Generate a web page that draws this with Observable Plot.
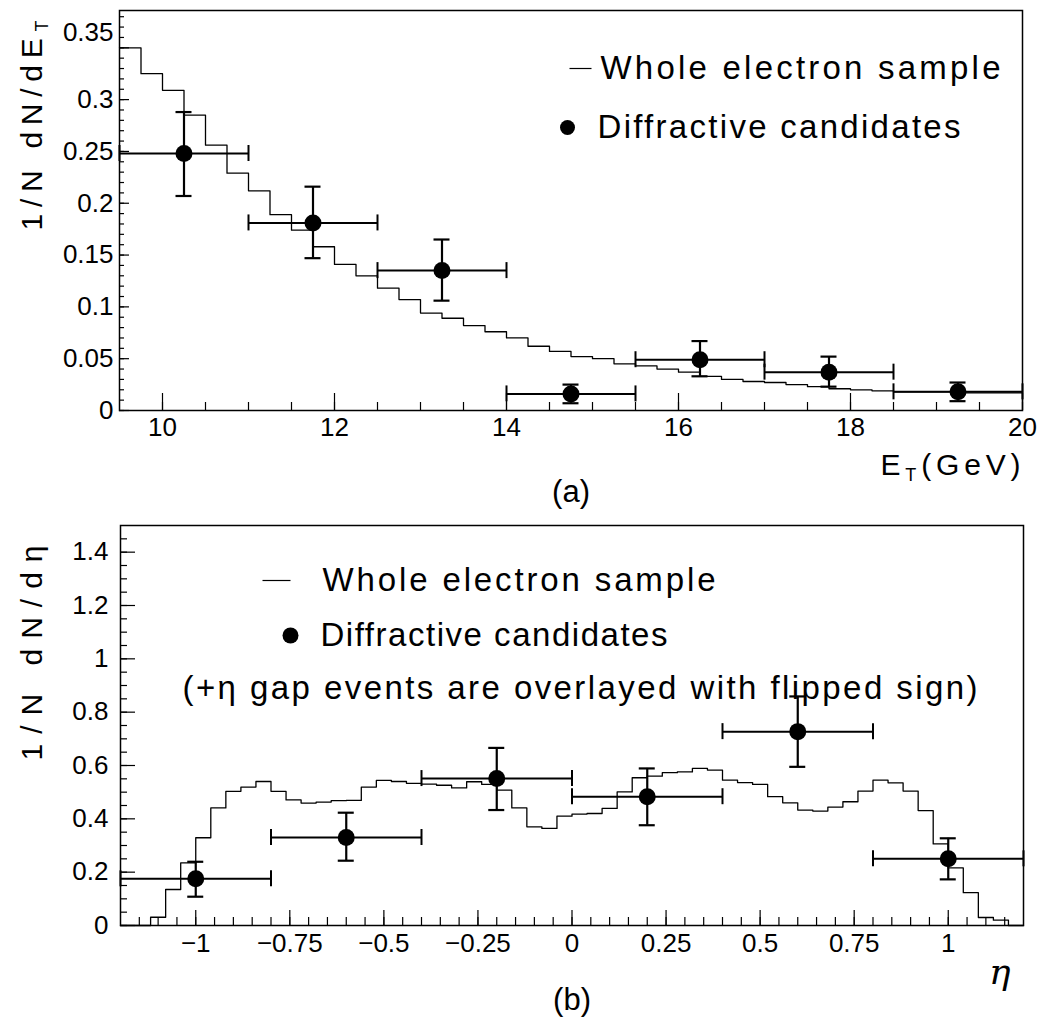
<!DOCTYPE html>
<html><head><meta charset="utf-8">
<script src="https://cdn.jsdelivr.net/npm/d3@7"></script>
<script src="https://cdn.jsdelivr.net/npm/@observablehq/plot@0.6"></script>
<style>
body{margin:0;background:#fff;}
#chart{width:1042px;}
svg{display:block;}
</style></head><body><div id="chart"></div>
<script>
// ---------- Panel (a): E_T ----------
const etBinStart = 9.5, etBinWidth = 0.25;
const etHist = [0.350,0.325,0.309,0.285,0.256,0.229,0.212,0.189,0.174,0.158,0.141,0.130,0.118,0.107,0.094,0.089,0.082,0.076,0.070,0.062,0.057,0.052,0.050,0.045,0.043,0.040,0.037,0.033,0.030,0.028,0.027,0.025,0.023,0.021,0.020,0.019,0.018,0.018,0.018,0.017,0.017,0.017];
const etX    = [10.25, 11.75, 13.25, 14.75, 16.25, 17.75, 19.25];
const etY    = [0.248, 0.181, 0.135, 0.016, 0.049, 0.037, 0.018];
const etYLo  = [0.207, 0.147, 0.106, 0.007, 0.033, 0.023, 0.009];
const etYHi  = [0.288, 0.216, 0.165, 0.025, 0.067, 0.052, 0.027];
const etXLo  = [9.5, 11, 12.5, 14, 15.5, 17, 18.5];
const etXHi  = [11, 12.5, 14, 15.5, 17, 18.5, 20];
const etXTickLabels = [10, 12, 14, 16, 18, 20];
const etYTickLabels = [0, 0.05, 0.1, 0.15, 0.2, 0.25, 0.3];
const etYTopLabel = [0.35];

// ---------- Panel (b): eta ----------
const etaBinStart = -1.2, etaBinWidth = 0.04;
const etaHist = [0,0,0.031,0.135,0.235,0.329,0.441,0.503,0.519,0.540,0.503,0.471,0.459,0.463,0.468,0.469,0.519,0.544,0.540,0.533,
                 0.530,0.526,0.516,0.539,0.529,0.508,0.441,0.370,0.364,0.410,0.418,0.420,0.439,0.501,0.554,0.560,0.573,0.576,0.589,0.583,
                 0.545,0.536,0.529,0.483,0.460,0.433,0.429,0.444,0.464,0.504,0.545,0.535,0.504,0.431,0.306,0.216,0.123,0.030,0.020,0];
const etaX   = [-1.0, -0.6, -0.2, 0.2, 0.6, 1.0];
const etaY   = [0.175, 0.330, 0.551, 0.483, 0.727, 0.250];
const etaYLo = [0.108, 0.243, 0.433, 0.376, 0.595, 0.173];
const etaYHi = [0.239, 0.423, 0.666, 0.589, 0.859, 0.327];
const etaXLo = [-1.2, -0.8, -0.4, 0, 0.4, 0.8];
const etaXHi = [-0.8, -0.4, 0, 0.4, 0.8, 1.2];
const etaXTickLabels = [-1, -0.75, -0.5, -0.25, 0, 0.25, 0.5, 0.75, 1];
const etaYTickLabels = [0, 0.2, 0.4, 0.6, 0.8, 1, 1.2, 1.4];

const legendLine = "Whole electron sample";
const legendDots = "Diffractive candidates";
const legendNote = "(+\u03b7 gap events are overlayed with flipped sign)";

const FONT = "Liberation Sans, Arial, sans-serif";
const fmt = d => String(d).replace("-", "\u2212");
const round = v => Math.round(v * 1000) / 1000;
const MID = {lineAnchor: "middle"};

function histLine(start, width, vals) {
  const pts = vals.map((v, i) => ({x: round(start + i * width), y: v}));
  pts.push({x: round(start + vals.length * width), y: vals[vals.length - 1]});
  return pts;
}
function points(X, Y, Lo, Hi, XL, XH) {
  return X.map((x, i) => ({x, y: Y[i], lo: Lo[i], hi: Hi[i], xl: XL[i], xh: XH[i]}));
}
const hline = {draw(ctx, size) { const w = Math.sqrt(size / Math.PI); ctx.moveTo(-w, 0); ctx.lineTo(w, 0); }};

function errorMarks(pts, r) {
  return [
    Plot.ruleY(pts, {y: "y", x1: "xl", x2: "xh", stroke: "black", strokeWidth: 2}),
    Plot.ruleX(pts, {x: "x", y1: "lo", y2: "hi", stroke: "black", strokeWidth: 2.2}),
    Plot.ruleY(pts, {y: "hi", x1: "x", x2: "x", insetLeft: -8, insetRight: -8, stroke: "black", strokeWidth: 2.2}),
    Plot.ruleY(pts, {y: "lo", x1: "x", x2: "x", insetLeft: -8, insetRight: -8, stroke: "black", strokeWidth: 2.2}),
    Plot.ruleX(pts, {x: "xl", y1: "y", y2: "y", insetTop: -8, insetBottom: -8, stroke: "black", strokeWidth: 2}),
    Plot.ruleX(pts, {x: "xh", y1: "y", y2: "y", insetTop: -8, insetBottom: -8, stroke: "black", strokeWidth: 2}),
    Plot.dot(pts, {x: "x", y: "y", r, fill: "black", stroke: "none"})
  ];
}

// ---------- Top plot ----------
const topW = 1042, topH = 512;
const topM = {top: 10, right: 20, bottom: 102, left: 119};
const topPH = topH - topM.top - topM.bottom, topPW = topW - topM.left - topM.right;
const etMinorX = d3.range(10, 20.01, 0.5).map(round);
const etMinorY = d3.range(0, 0.385, 0.01).map(round);
const etMajorY = d3.range(0, 0.385, 0.05).map(round);

const topPlot = Plot.plot({
  width: topW, height: topH,
  marginTop: topM.top, marginRight: topM.right, marginBottom: topM.bottom, marginLeft: topM.left,
  style: {fontFamily: FONT, background: "white", color: "black"},
  x: {domain: [9.5, 20], axis: null},
  y: {domain: [0, 0.386], axis: null},
  marks: [
    Plot.tickX(etMinorX, {x: d => d, insetTop: topPH - 8, stroke: "black", strokeWidth: 1.2}),
    Plot.tickX(etXTickLabels, {x: d => d, insetTop: topPH - 17, stroke: "black", strokeWidth: 1.2}),
    Plot.tickY(etMinorY, {y: d => d, insetRight: topPW - 5, stroke: "black", strokeWidth: 1.2}),
    Plot.tickY(etMajorY, {y: d => d, insetRight: topPW - 10, stroke: "black", strokeWidth: 1.2}),
    Plot.text(etXTickLabels, {...MID, x: d => d, frameAnchor: "bottom", dy: 17, text: fmt, fontSize: 26}),
    Plot.text(etYTickLabels, {...MID, y: d => d, frameAnchor: "left", dx: -6, textAnchor: "end", text: fmt, fontSize: 26}),
    Plot.text(etYTopLabel, {...MID, y: d => d, frameAnchor: "left", dx: -6, dy: -15, textAnchor: "end", text: fmt, fontSize: 26}),
    Plot.line(histLine(etBinStart, etBinWidth, etHist), {x: "x", y: "y", curve: "step-after", stroke: "black", strokeWidth: 1.3}),
    ...errorMarks(points(etX, etY, etYLo, etYHi, etXLo, etXHi), 8.5),
    Plot.frame({stroke: "black", strokeWidth: 1.5}),
    // legend
    Plot.dot([0], {frameAnchor: "top-left", dx: 461, dy: 58, symbol: hline, r: 11, fill: "none", stroke: "black", strokeWidth: 1.2}),
    Plot.text([legendLine], {...MID, frameAnchor: "top-left", dx: 481, dy: 58, textAnchor: "start", text: d => d, fontSize: 33}),
    Plot.dot([0], {frameAnchor: "top-left", dx: 448, dy: 117, r: 7.5, fill: "black"}),
    Plot.text([legendDots], {...MID, frameAnchor: "top-left", dx: 478, dy: 117, textAnchor: "start", text: d => d, fontSize: 33}),
    // labels
    Plot.text(["1/N dN/dE_T"], {...MID, frameAnchor: "left", dx: -87, dy: 20, rotate: -90, textAnchor: "start", text: d => d, fontSize: 30}),
    Plot.text(["E_T(GeV)"], {...MID, frameAnchor: "bottom-right", dx: -2, dy: 55, textAnchor: "end", text: d => d, fontSize: 30}),
    Plot.text(["(a)"], {...MID, frameAnchor: "bottom", dy: 82, text: d => d, fontSize: 31})
  ]
});

// ---------- Bottom plot ----------
const botW = 1042, botH = 511;
const botM = {top: 13, right: 19, bottom: 98, left: 120};
const botPH = botH - botM.top - botM.bottom, botPW = botW - botM.left - botM.right;
const etaMinorX = d3.range(-1.15, 1.16, 0.05).map(round);
const etaMinorY = d3.range(0, 1.5, 0.05).map(round);

const botPlot = Plot.plot({
  width: botW, height: botH,
  marginTop: botM.top, marginRight: botM.right, marginBottom: botM.bottom, marginLeft: botM.left,
  style: {fontFamily: FONT, background: "white", color: "black"},
  x: {domain: [-1.2, 1.2], axis: null},
  y: {domain: [0, 1.5], axis: null},
  marks: [
    Plot.tickX(etaMinorX, {x: d => d, insetTop: botPH - 8, stroke: "black", strokeWidth: 1.2}),
    Plot.tickX(etaXTickLabels, {x: d => d, insetTop: botPH - 15, stroke: "black", strokeWidth: 1.2}),
    Plot.tickY(etaMinorY, {y: d => d, insetRight: botPW - 7, stroke: "black", strokeWidth: 1.2}),
    Plot.tickY(etaYTickLabels, {y: d => d, insetRight: botPW - 15, stroke: "black", strokeWidth: 1.2}),
    Plot.text(etaXTickLabels, {...MID, x: d => d, frameAnchor: "bottom", dy: 18, text: fmt, fontSize: 26}),
    Plot.text(etaYTickLabels, {...MID, y: d => d, frameAnchor: "left", dx: -12, textAnchor: "end", text: fmt, fontSize: 26}),
    Plot.line(histLine(etaBinStart, etaBinWidth, etaHist), {x: "x", y: "y", curve: "step-after", stroke: "black", strokeWidth: 1.3}),
    ...errorMarks(points(etaX, etaY, etaYLo, etaYHi, etaXLo, etaXHi), 8.5),
    Plot.frame({stroke: "black", strokeWidth: 1.5}),
    // legend
    Plot.dot([0], {frameAnchor: "top-left", dx: 156, dy: 55, symbol: hline, r: 14, fill: "none", stroke: "black", strokeWidth: 1.2}),
    Plot.text([legendLine], {...MID, frameAnchor: "top-left", dx: 202, dy: 55, textAnchor: "start", text: d => d, fontSize: 33}),
    Plot.dot([0], {frameAnchor: "top-left", dx: 170, dy: 110, r: 8, fill: "black"}),
    Plot.text([legendDots], {...MID, frameAnchor: "top-left", dx: 200, dy: 110, textAnchor: "start", text: d => d, fontSize: 33}),
    Plot.text([legendNote], {...MID, frameAnchor: "top-left", dx: 62, dy: 163, textAnchor: "start", text: d => d, fontSize: 33}),
    // labels
    Plot.text(["1/N dN/d\u03b7"], {...MID, frameAnchor: "left", dx: -88, dy: 35, rotate: -90, textAnchor: "start", text: d => d, fontSize: 30}),
    Plot.text(["\u03b7"], {...MID, frameAnchor: "bottom-right", dx: -13, dy: 47, text: d => d, fontSize: 36, fontStyle: "italic", fontFamily: "DejaVu Serif, serif"}),
    Plot.text(["(b)"], {...MID, frameAnchor: "bottom", dy: 75, text: d => d, fontSize: 31})
  ]
});

// ---------- text post-processing: subscripts and widths ----------
const NS = "http://www.w3.org/2000/svg";
function finish(svg, lengths) {
  svg.querySelectorAll("text").forEach(t => {
    const s = t.textContent;
    if (s.includes("_T")) {
      const [a, b] = s.split("_T");
      t.textContent = "";
      const t1 = document.createElementNS(NS, "tspan"); t1.textContent = a; t.appendChild(t1);
      const t2 = document.createElementNS(NS, "tspan"); t2.textContent = "T";
      t2.setAttribute("font-size", "0.6em"); t2.setAttribute("dy", "0.35em"); t.appendChild(t2);
      if (b) { const t3 = document.createElementNS(NS, "tspan"); t3.textContent = b; t3.setAttribute("dy", "-0.21em"); t.appendChild(t3); }
    }
    if (lengths[s]) { t.setAttribute("textLength", lengths[s]); t.setAttribute("lengthAdjust", "spacing"); }
  });
}
finish(topPlot, {[legendLine]: 400, [legendDots]: 363, "1/N dN/dE_T": 210, "E_T(GeV)": 140});
finish(botPlot, {[legendLine]: 393, [legendDots]: 347, [legendNote]: 795, "1/N dN/d\u03b7": 215});

document.getElementById("chart").append(topPlot, botPlot);
</script></body></html>
